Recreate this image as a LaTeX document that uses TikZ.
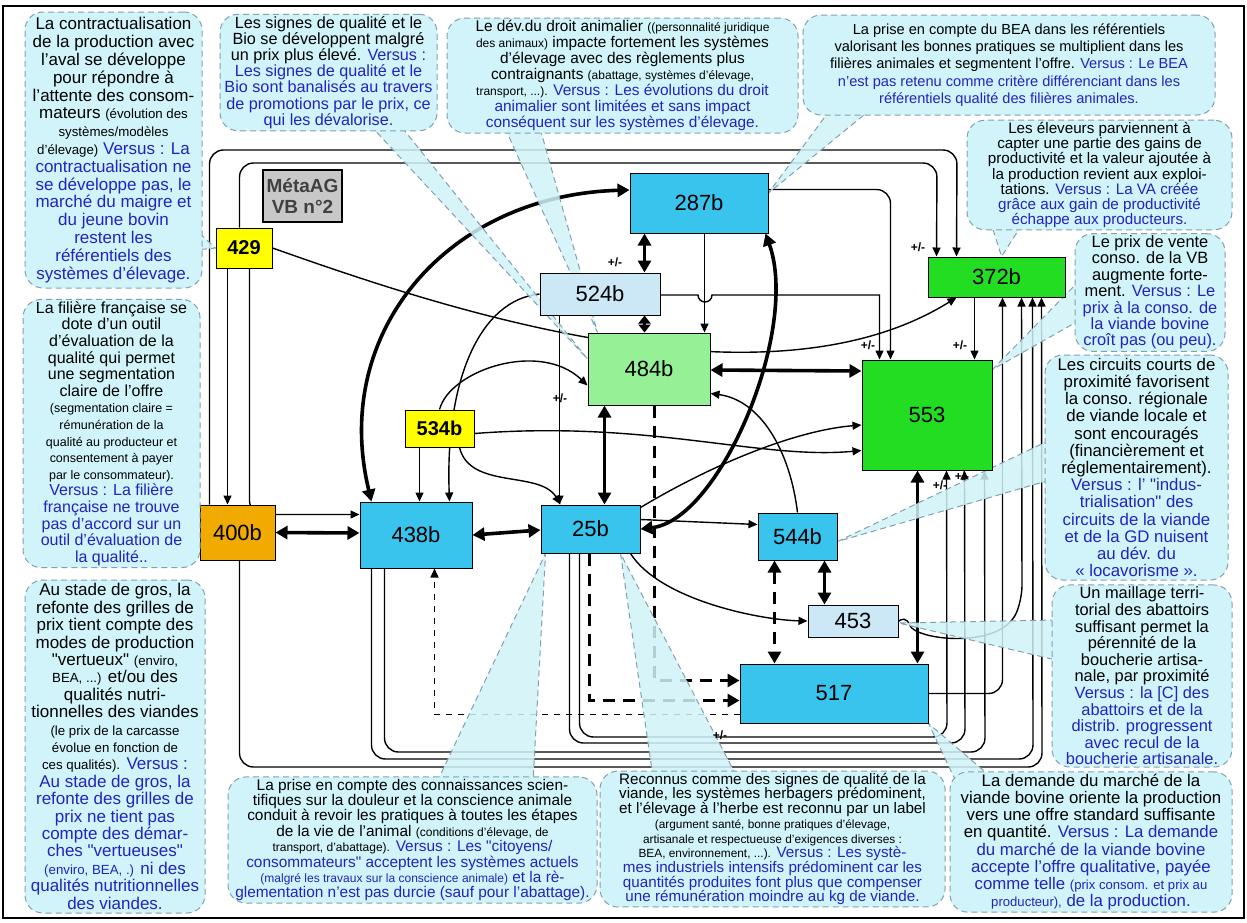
\documentclass[tikz,border=0pt]{standalone}
\usepackage{fontspec}
\setmainfont{Liberation Sans}
\usetikzlibrary{arrows.meta,calc}
\definecolor{bubblefill}{RGB}{208,244,249}
\definecolor{bubbleedge}{RGB}{130,160,175}
\definecolor{vsblue}{RGB}{35,35,190}
\definecolor{boxblue}{RGB}{56,196,236}
\definecolor{boxpale}{RGB}{204,232,246}
\definecolor{boxgreen}{RGB}{34,221,34}
\definecolor{boxlgreen}{RGB}{150,240,150}
\definecolor{boxyellow}{RGB}{255,255,0}
\definecolor{boxorange}{RGB}{240,170,0}
\definecolor{metagray}{RGB}{200,200,200}
\newcommand{\vs}{\color{vsblue}}
\newcommand{\q}{\textquotedbl}
\makeatletter
\newcommand{\sm}{\fontsize{\fpeval{0.78*\f@size}}{\the\baselineskip}\selectfont}
\makeatother
\newcommand{\fs}[2]{\fontsize{#1}{#2}\selectfont}
\pgfdeclarelayer{bg}
\pgfdeclarelayer{lines}
\pgfdeclarelayer{tails}
\pgfsetlayers{bg,lines,tails,main}
\begin{document}
\begin{tikzpicture}[x=0.5pt,y=-0.5pt,
  bubble/.style={draw=bubbleedge, densely dashed, line width=0.5pt, fill=bubblefill,
    rounded corners=9pt, align=center, inner sep=1pt},
  tail/.style={draw=bubbleedge, densely dashed, line width=0.5pt, fill=bubblefill, fill opacity=0.85},
  box/.style={draw, line width=0.5pt, font=\fs{11}{12}, inner sep=0pt},
  conn/.style={line width=0.7pt, -{Triangle[length=4.5pt,width=4pt]}, rounded corners=7pt},
  bold/.style={line width=1.8pt, {Triangle[length=6pt,width=6.5pt]}-{Triangle[length=6pt,width=6.5pt]}},
  boldd/.style={bold, dash pattern=on 6pt off 4pt},
  pm/.style={font=\fs{6}{6}\bfseries, inner sep=0pt}]
\useasboundingbox (0,0) rectangle (1247,922);
\begin{pgfonlayer}{bg}
\fill[white] (0,0) rectangle (1247,922);
\end{pgfonlayer}
\draw[line width=1.2pt] (3,6) rectangle (1244,918);

% ---------- factor boxes ----------
\node[box, fill=metagray, line width=1pt, minimum width=39.5pt, minimum height=26pt,
  font=\fs{9.5}{10.5}\bfseries, text=black!75, align=center] (meta) at (302.5,196) {MétaAG\\VB n°2};
\node[box, fill=boxyellow, font=\fs{10}{11}\bfseries, minimum width=28pt, minimum height=20pt] (n429) at (244,248) {429};
\node[box, fill=boxblue,   minimum width=69pt,   minimum height=30pt]   (n287) at (699,203) {287b};
\node[box, fill=boxpale,   minimum width=60pt,   minimum height=21pt]   (n524) at (600,294) {524b};
\node[box, fill=boxgreen,  minimum width=68.5pt, minimum height=20pt]   (n372) at (996.5,277) {372b};
\node[box, fill=boxlgreen, minimum width=61pt,   minimum height=36pt]   (n484) at (649,369) {484b};
\node[box, fill=boxgreen,  minimum width=65pt,   minimum height=55pt]   (n553) at (927,415) {553};
\node[box, fill=boxyellow, font=\fs{10}{11}\bfseries, minimum width=34.5pt, minimum height=18.5pt] (n534) at (439.5,428.5) {534b};
\node[box, fill=boxorange, minimum width=37.5pt, minimum height=27.5pt] (n400) at (237.5,532.5) {400b};
\node[box, fill=boxblue,   minimum width=56pt,   minimum height=33pt]   (n438) at (416,535) {438b};
\node[box, fill=boxblue,   minimum width=49.5pt, minimum height=24pt]   (n25)  at (590.5,529) {25b};
\node[box, fill=boxblue,   minimum width=39.5pt, minimum height=23.5pt] (n544) at (797.5,536.5) {544b};
\node[box, fill=boxpale,   minimum width=45pt,   minimum height=16pt]   (n453) at (853,621) {453};
\node[box, fill=boxblue,   minimum width=94pt,   minimum height=29.5pt] (n517) at (834,693.5) {517};

% ---------- influence lines ----------
\begin{pgfonlayer}{lines}
\draw[conn] ($(n429.south west)+(12,0)$) -- ($(n400.north west)+(28,0)$);
\draw[conn] ($(n429.south west)+(34,0)$) |- ($(n438.north west)+(0,13)$);
\draw[conn] ($(n429.north west)+(24,0)$) |- (937,163) -- ($(n372.north west)+(9,0)$);
\draw[conn] ($(n400.north west)+(10,0)$) |- (957,150) -- ($(n372.north west)+(29,0)$);
\draw[conn] ($(n287.south west)+(75,0)$) -- ($(n484.north west)+(117,0)$);
\draw[conn] ($(n287.north east)+(0,17)$) -| ($(n553.north west)+(29,0)$);
\draw[conn, sharp corners] ($(n524.east)+(0,1)$) -- (698,295) arc[start angle=180,end angle=0,radius=7] -| ($(n553.north west)+(18,0)$);
\draw[conn] ($(n372.south west)+(47,0)$) -- ($(n553.north west)+(113,0)$);
\draw[conn] ($(n25.north east)+(0,15)$) -- ($(n544.north west)+(0,12)$);
\draw[conn] ($(n25.south east)+(-10,0)$) .. controls (660,600) and (760,620) .. (n453.west);
\draw[conn] (n534.north) .. controls (450,370) and (540,340) .. ($(n484.south west)+(0,-20)$);
\draw[conn] ($(n534.south east)+(-15,0)$) .. controls (470,490) and (540,470) .. ($(n25.north west)+(20,0)$);
\draw[conn] ($(n534.south west)+(15,0)$) -- ($(n438.north west)+(60,0)$);
\draw[conn] ($(n534.east)+(0,5)$) .. controls (650,420) and (760,460) .. ($(n553.south west)+(0,-20)$);
\draw[conn] (n524.west) .. controls (480,300) and (445,380) .. ($(n438.north west)+(90,0)$);
\draw[conn] ($(n524.south west)+(20,0)$) -- ($(n25.north west)+(19,0)$);
\draw[conn] (n544.north) .. controls (790,450) and (760,400) .. ($(n484.south east)+(0,-12)$);
\draw[conn] ($(n25.north east)+(0,3)$) .. controls (720,460) and (800,430) .. ($(n553.west)+(0,10)$);
\draw[conn] (n429.east) .. controls (420,300) and (760,420) .. ($(n372.south west)+(29,0)$);
\draw[conn] (n453.east) -- (905,612) .. controls (915,640) and (1000,650) .. (1022,600) -- ($(n372.south west)+(94,0)$);
\draw[conn] (n517.east) -| ($(n372.south west)+(75,0)$);
% loops below the boxes
\draw[conn] ($(n400.south west)+(40,0)$) |- (1042,767) -- ($(n372.south west)+(114,0)$);
\draw[conn] ($(n438.south west)+(12,0)$) |- (1033,759) -- ($(n372.south west)+(105,0)$);
\draw[conn] ($(n438.south west)+(25,0)$) |- (985,752) -- ($(n553.south west)+(123,0)$);
\draw[conn] ($(n25.south west)+(29,0)$) |- (965,743) -- ($(n553.south west)+(103,0)$);
\draw[conn] ($(n25.south west)+(39,0)$) |- (947,737) -- ($(n553.south west)+(85,0)$);
% dashed links toward the bottom box
\draw[line width=0.7pt, dashed, -{Triangle[length=4.5pt,width=4pt]}] ($(n517.west)+(0,21)$) -| ($(n438.south west)+(75,0)$);
\draw[boldd] ($(n544.south west)+(17,0)$) -- ($(n517.north west)+(35,0)$);
\draw[boldd, -{Triangle[length=6pt,width=6.5pt]}] ($(n25.south west)+(49,0)$) |- ($(n517.west)+(0,7)$);
\draw[boldd, -{Triangle[length=6pt,width=6.5pt]}] ($(n484.south west)+(67,0)$) |- ($(n517.west)+(0,-13)$);
% strong links
\draw[bold] ($(n287.south west)+(15,0)$) -- ($(n524.north west)+(105,0)$);
\draw[bold, {Triangle[length=4pt,width=6pt]}-{Triangle[length=4pt,width=6pt]}] ($(n524.south west)+(105,0)$) -- ($(n484.north west)+(57,0)$);
\draw[bold] ($(n484.east)+(0,1)$) -- ($(n553.west)+(0,-44)$);
\draw[bold] ($(n484.south west)+(17,0)$) -- ($(n25.north west)+(64,0)$);
\draw[bold] (n438.east) -- ($(n25.west)+(0,1)$);
\draw[bold] (n400.east) -- ($(n438.west)+(0,-2)$);
\draw[bold] (n25.east) .. controls (720,520) and (800,330) .. ($(n287.south east)+(-3,0)$);
\draw[bold] ($(n438.north west)+(12,0)$) .. controls (330,330) and (450,195) .. ($(n287.west)+(0,-13)$);
\draw[bold] ($(n544.south west)+(67,0)$) -- ($(n453.north west)+(17,0)$);
\draw[bold] ($(n553.south west)+(56,0)$) -- ($(n517.north west)+(178,0)$);
\end{pgfonlayer}

% ---------- sign labels ----------
\node[pm] (s1) at (615,262) {+/-};
\node[pm] (s2) at (560,398) {+/-};
\node[pm] (s3) at (918,247) {+/-};
\node[pm] (s4) at (868,345) {+/-};
\node[pm] (s5) at (960,345) {+/-};
\node[pm] (s6) at (940,485) {+/-};
\node[pm] (s7) at (962,476) {+/-};
\node[pm] (s8) at (720,735) {+/-};

% ---------- callout tails ----------
\begin{pgfonlayer}{tails}
\filldraw[tail] (185,220) -- (n429.west) -- (195,250) -- cycle;
\filldraw[tail] (370,125) -- ($(n484.west)+(0,-10)$) -- (400,125) -- cycle;
\filldraw[tail] (505,128) -- ($(n484.north west)+(10,0)$) -- (540,128) -- cycle;
\filldraw[tail] (830,110) -- ($(n287.east)+(0,-10)$) -- (870,110) -- cycle;
\filldraw[tail] (990,220) -- ($(n372.north)+(5,0)$) -- (1025,220) -- cycle;
\filldraw[tail] (1080,280) -- ($(n553.north east)+(0,10)$) -- (1080,320) -- cycle;
\filldraw[tail] (1050,440) -- ($(n544.east)+(0,5)$) -- (1050,480) -- cycle;
\filldraw[tail] (1056,620) -- ($(n453.east)+(0,2)$) -- (1056,660) -- cycle;
\filldraw[tail] (195,500) -- (n400.west) -- (195,530) -- cycle;
\filldraw[tail] (437,782) -- ($(n25.south west)+(5,0)$) -- (533,782) -- cycle;
\filldraw[tail] (653,777) -- ($(n25.south east)+(-20,0)$) -- (737,777) -- cycle;
\filldraw[tail] (960,790) -- (n517.south east) -- (990,776) -- cycle;
\end{pgfonlayer}

% ---------- callouts ----------
\node[bubble, font=\fs{8.5}{8.9}, minimum width=88.5pt, minimum height=138pt] (c1) at (113.5,150) {La contractualisation\\de la production avec\\l'aval se développe\\pour répondre à\\l'attente des consom-\\mateurs {\sm(évolution des}\\{\sm systèmes/modèles}\\{\sm d'élevage)} {\vs Versus : La}\\{\vs contractualisation ne}\\{\vs se développe pas, le}\\{\vs marché du maigre et}\\{\vs du jeune bovin}\\{\vs restent les}\\{\vs référentiels des}\\{\vs systèmes d'élevage.}};
\node[bubble, font=\fs{8.1}{8.1}, minimum width=108.5pt, minimum height=57.5pt] (c2) at (328.5,72.5) {Les signes de qualité et le\\Bio se développent malgré\\un prix plus élevé. {\vs Versus :}\\{\vs Les signes de qualité et le}\\{\vs Bio sont banalisés au travers}\\{\vs de promotions par le prix, ce}\\{\vs qui les dévalorise.}};
\node[bubble, font=\fs{7.7}{8}, minimum width=175.5pt, minimum height=57.5pt] (c3) at (622.5,75.5) {Le dév.du droit animalier {\sm((personnalité juridique}\\{\sm des animaux)} impacte fortement les systèmes\\d'élevage avec des règlements plus\\contraignants {\sm(abattage, systèmes d'élevage,}\\{\sm transport, ...).} {\vs Versus : Les évolutions du droit}\\{\vs animalier sont limitées et sans impact}\\{\vs conséquent sur les systèmes d'élevage.}};
\node[bubble, font=\fs{7.3}{8.6}, minimum width=206pt, minimum height=50pt] (c4) at (1009,65) {La prise en compte du BEA dans les référentiels\\valorisant les bonnes pratiques se multiplient dans les\\filières animales et segmentent l'offre. {\vs Versus : Le BEA}\\{\vs n'est pas retenu comme critère différenciant dans les}\\{\vs référentiels qualité des filières animales.}};
\node[bubble, font=\fs{7.6}{7.6}, minimum width=132.5pt, minimum height=53pt] (c5) at (1099.5,175) {Les éleveurs parviennent à\\capter une partie des gains de\\productivité et la valeur ajoutée à\\la production revient aux exploi-\\tations. {\vs Versus : La VA créée}\\{\vs grâce aux gain de productivité}\\{\vs échappe aux producteurs.}};
\node[bubble, font=\fs{8.2}{8.2}, minimum width=75pt, minimum height=57.5pt] (c6) at (1150,292.5) {Le prix de vente\\conso. de la VB\\augmente forte-\\ment. {\vs Versus : Le}\\{\vs prix à la conso. de}\\{\vs la viande bovine}\\{\vs croît pas (ou peu).}};
\node[bubble, font=\fs{8.4}{8.6}, minimum width=91.5pt, minimum height=112.5pt] (c7) at (1136.5,467.5) {Les circuits courts de\\proximité favorisent\\la conso. régionale\\de viande locale et\\sont encouragés\\(financièrement et\\réglementairement).\\{\vs Versus : l' \q indus-}\\{\vs trialisation\q{} des}\\{\vs circuits de la viande}\\{\vs et de la GD nuisent}\\{\vs au dév. du}\\{\vs « locavorisme ».}};
\node[bubble, font=\fs{8.2}{8.3}, minimum width=90pt, minimum height=91pt] (c8) at (1142,676) {Un maillage terri-\\torial des abattoirs\\suffisant permet la\\pérennité de la\\boucherie artisa-\\nale, par proximité\\{\vs Versus : la [C] des}\\{\vs abattoirs et de la}\\{\vs distrib. progressent}\\{\vs avec recul de la}\\{\vs boucherie artisanale.}};
\node[bubble, font=\fs{8}{8.3}, minimum width=88.5pt, minimum height=133.5pt] (c9) at (111.5,433.5) {La filière française se\\dote d'un outil\\d'évaluation de la\\qualité qui permet\\une segmentation\\claire de l'offre\\{\sm(segmentation claire =}\\{\sm rémunération de la}\\{\sm qualité au producteur et}\\{\sm consentement à payer}\\{\sm par le consommateur).}\\{\vs Versus : La filière}\\{\vs française ne trouve}\\{\vs pas d'accord sur un}\\{\vs outil d'évaluation de}\\{\vs la qualité..}};
\node[bubble, font=\fs{8.5}{8.7}, minimum width=90pt, minimum height=166.5pt] (c10) at (115,746.5) {Au stade de gros, la\\refonte des grilles de\\prix tient compte des\\modes de production\\\q vertueux\q{} {\sm(enviro,}\\{\sm BEA, ...)} et/ou des\\qualités nutri-\\tionnelles des viandes\\{\sm(le prix de la carcasse}\\{\sm évolue en fonction de}\\{\sm ces qualités).} {\vs Versus :}\\{\vs Au stade de gros, la}\\{\vs refonte des grilles de}\\{\vs prix ne tient pas}\\{\vs compte des démar-}\\{\vs ches \q vertueuses\q}\\{\vs\sm (enviro, BEA, .)} {\vs ni des}\\{\vs qualités nutritionnelles}\\{\vs des viandes.}};
\node[bubble, font=\fs{7.7}{7.7}, minimum width=184.5pt, minimum height=62pt] (c11) at (412.5,840) {La prise en compte des connaissances scien-\\tifiques sur la douleur et la conscience animale\\conduit à revoir les pratiques à toutes les étapes\\de la vie de l'animal {\sm(conditions d'élevage, de}\\{\sm transport, d'abattage).} {\vs Versus : Les \q citoyens/}\\{\vs consommateurs\q{} acceptent les systèmes actuels}\\{\vs\sm (malgré les travaux sur la conscience animale)} {\vs et la rè-}\\{\vs glementation n'est pas durcie (sauf pour l'abattage).}};
\node[bubble, font=\fs{7.6}{7.35}, minimum width=172.5pt, minimum height=66pt] (c12) at (772.5,839) {Reconnus comme des signes de qualité de la\\viande, les systèmes herbagers prédominent,\\et l'élevage à l'herbe est reconnu par un label\\{\sm(argument santé, bonne pratiques d'élevage,}\\{\sm artisanale et respectueuse d'exigences diverses :}\\{\sm BEA, environnement, ...).} {\vs Versus : Les systè-}\\{\vs mes industriels intensifs prédominent car les}\\{\vs quantités produites font plus que compenser}\\{\vs une rémunération moindre au kg de viande.}};
\node[bubble, font=\fs{8.4}{8.6}, minimum width=141pt, minimum height=70pt] (c13) at (1091,842) {La demande du marché de la\\viande bovine oriente la production\\vers une offre standard suffisante\\en quantité. {\vs Versus : La demande}\\{\vs du marché de la viande bovine}\\{\vs accepte l'offre qualitative, payée}\\{\vs comme telle {\sm(prix consom. et prix au}}\\{\vs\sm producteur),} {\vs de la production.}};
\end{tikzpicture}
\end{document}
